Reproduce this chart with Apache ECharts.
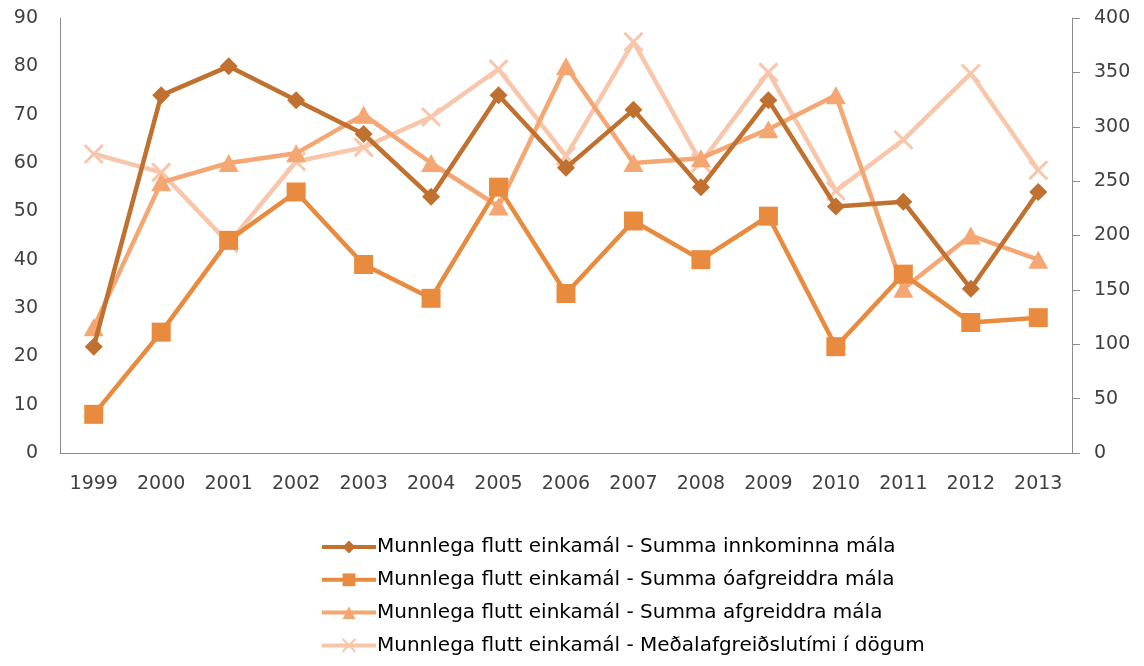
<!DOCTYPE html>
<html>
<head>
<meta charset="utf-8">
<script src="https://cdn.jsdelivr.net/npm/echarts@6/dist/echarts.min.js"></script>
<style>
  html, body { margin: 0; padding: 0; background: #fff; }
  #chart { width: 1144px; height: 666px; }
</style>
</head>
<body>
<div id="chart"></div>
<script>
// data
const years = ['1999', '2000', '2001', '2002', '2003', '2004', '2005', '2006', '2007', '2008', '2009', '2010', '2011', '2012', '2013'];
const innkomin = [22, 74, 80, 73, 66, 53, 74, 59, 71, 55, 73, 51, 52, 34, 54];
const oafgreidd = [8, 25, 44, 54, 39, 32, 55, 33, 48, 40, 49, 22, 37, 27, 28];
const afgreidd = [26, 56, 60, 62, 70, 60, 51, 80, 60, 61, 67, 74, 34, 45, 40];
const medaltimi = [275, 258, 193, 268, 281, 309, 353, 273, 378, 267, 350, 241, 288, 349, 260];

const names = [
  'Munnlega flutt einkamál - Summa innkominna mála',
  'Munnlega flutt einkamál - Summa óafgreiddra mála',
  'Munnlega flutt einkamál - Summa afgreiddra mála',
  'Munnlega flutt einkamál - Meðalafgreiðslutími í dögum'
];

const chart = echarts.init(document.getElementById('chart'));
const fontFam = '"DejaVu Sans", "Open Sans", sans-serif';
const labelStyle = { color: '#404040', fontSize: 19, fontFamily: fontFam };
const axisGray = '#8c8c8c';

chart.setOption({
  animation: false,
  backgroundColor: '#fff',
  grid: { left: 60, right: 72, top: 18, bottom: 213 },
  legend: {
    orient: 'vertical',
    left: 315,
    top: 532,
    itemWidth: 54,
    itemHeight: 16,
    itemGap: 12.8,
    lineStyle: { width: 4 },
    textStyle: { color: '#000', fontSize: 20, fontFamily: fontFam, padding: [0, 0, 0, -4] },
    data: names
  },
  xAxis: {
    type: 'category',
    data: years,
    axisLine: { lineStyle: { color: axisGray, width: 1 } },
    axisTick: { show: false },
    axisLabel: Object.assign({ margin: 22 }, labelStyle)
  },
  yAxis: [{
    type: 'value',
    min: 0, max: 90, interval: 10,
    axisLine: { show: true, lineStyle: { color: axisGray } },
    axisTick: { show: false },
    splitLine: { show: false },
    axisLabel: Object.assign({ margin: 22 }, labelStyle)
  }, {
    type: 'value',
    min: 0, max: 400, interval: 50,
    position: 'right',
    axisLine: { show: true, lineStyle: { color: axisGray } },
    axisTick: { show: true, length: 8, lineStyle: { color: axisGray } },
    splitLine: { show: false },
    axisLabel: Object.assign({ margin: 22 }, labelStyle)
  }],
  series: [{
    name: names[0],
    type: 'line',
    data: innkomin,
    symbol: 'diamond',
    symbolSize: [18, 18],
    lineStyle: { color: '#C0702F', width: 4.5 },
    itemStyle: { color: '#C0702F' },
    z: 5
  }, {
    name: names[1],
    type: 'line',
    data: oafgreidd,
    symbol: 'rect',
    symbolSize: 19,
    lineStyle: { color: '#E98B3E', width: 4.5 },
    itemStyle: { color: '#E98B3E' },
    z: 4
  }, {
    name: names[2],
    type: 'line',
    data: afgreidd,
    symbol: 'triangle',
    symbolSize: [20, 18],
    lineStyle: { color: '#F4A673', width: 4.5 },
    itemStyle: { color: '#F4A673' },
    z: 3
  }, {
    name: names[3],
    type: 'line',
    yAxisIndex: 1,
    data: medaltimi,
    symbol: 'path://M0,0L10,10M10,0L0,10',
    symbolSize: 18,
    lineStyle: { color: '#F8C7AB', width: 4.5 },
    itemStyle: { color: 'transparent', borderColor: '#F8C7AB', borderWidth: 3 },
    z: 2
  }]
});
</script>
</body>
</html>
